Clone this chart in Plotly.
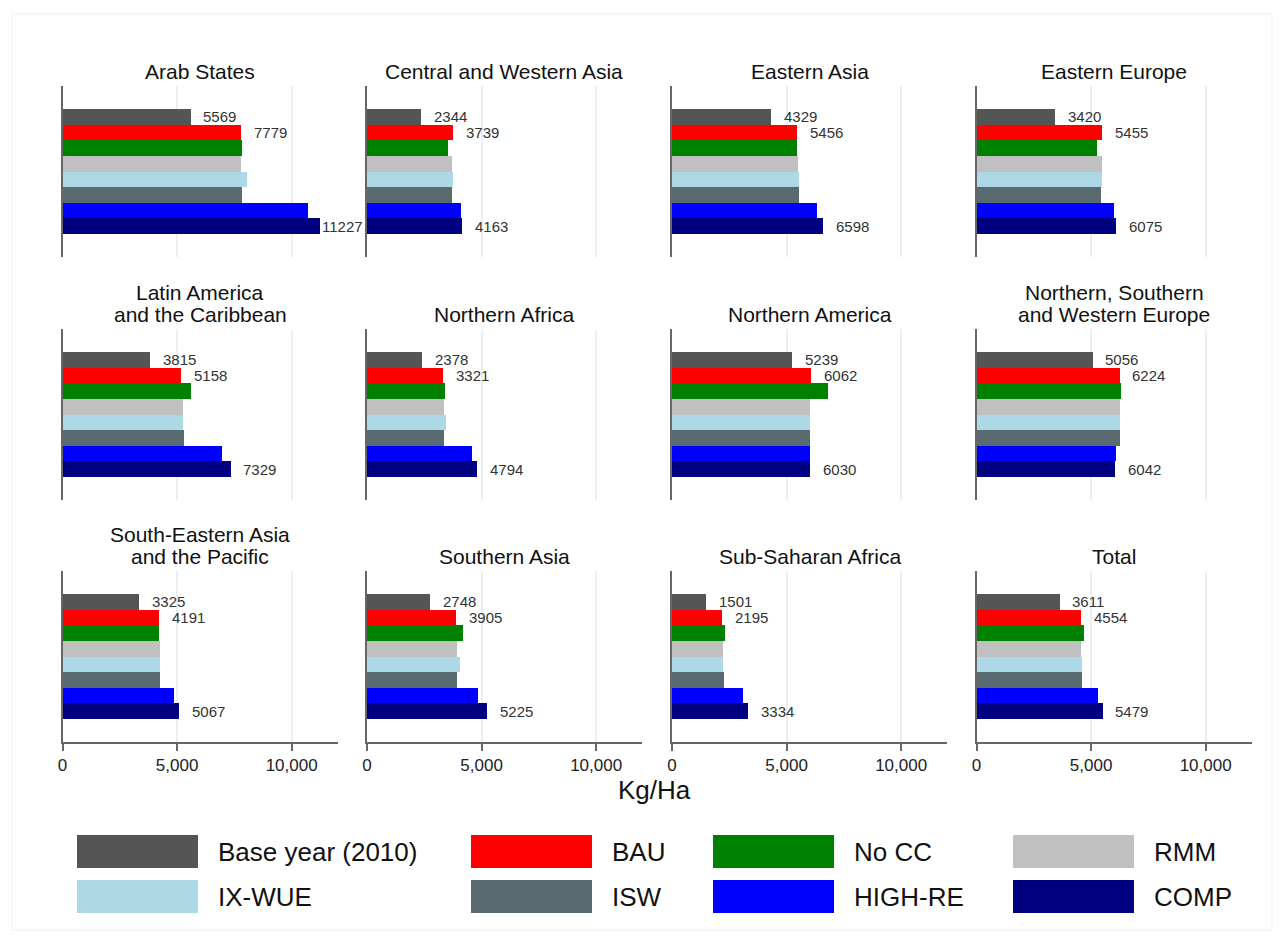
import plotly.graph_objects as go

# Regions (panel order: left to right, top to bottom)
regions = [
    "Arab States", "Central and Western Asia", "Eastern Asia", "Eastern Europe",
    "Latin America\nand the Caribbean", "Northern Africa", "Northern America",
    "Northern, Southern\nand Western Europe",
    "South-Eastern Asia\nand the Pacific", "Southern Asia", "Sub-Saharan Africa", "Total",
]

series_names = ["Base year (2010)", "BAU", "No CC", "RMM", "IX-WUE", "ISW", "HIGH-RE", "COMP"]
series_colors = ["#555555", "#ff0000", "#008000", "#c0c0c0", "#add8e6", "#596b71", "#0000ff", "#000080"]

# Yield, Kg/Ha
base_year = [5569, 2344, 4329, 3420, 3815, 2378, 5239, 5056, 3325, 2748, 1501, 3611]
bau       = [7779, 3739, 5456, 5455, 5158, 3321, 6062, 6224, 4191, 3905, 2195, 4554]
no_cc     = [7810, 3520, 5450, 5240, 5570, 3420, 6820, 6280, 4190, 4170, 2310, 4680]
rmm       = [7770, 3730, 5490, 5460, 5220, 3340, 6030, 6220, 4220, 3910, 2220, 4550]
ix_wue    = [8010, 3740, 5540, 5460, 5220, 3440, 6040, 6220, 4250, 4060, 2220, 4600]
isw       = [7790, 3710, 5540, 5410, 5280, 3340, 6030, 6230, 4250, 3920, 2290, 4600]
high_re   = [10710, 4090, 6320, 5980, 6950, 4580, 6030, 6060, 4860, 4860, 3080, 5270]
comp      = [11227, 4163, 6598, 6075, 7329, 4794, 6030, 6042, 5067, 5225, 3334, 5479]

series_values = [base_year, bau, no_cc, rmm, ix_wue, isw, high_re, comp]
labelled = [0, 1, 7]  # series whose values are printed next to the bar

x_ticks = [0, 5000, 10000]
x_max = 12000

W, H = 1284, 940
FONT = "Liberation Sans"

def px_x(p):
    return p / W

def px_y(p):
    return 1 - p / H

col_left = [62.5, 367, 672, 976.5]
col_width = 275
row_top = [86, 329, 571]
row_height = 171

fig = go.Figure()
layout = dict(
    width=W, height=H, autosize=False,
    margin=dict(l=0, r=0, t=0, b=0, pad=0, autoexpand=False),
    paper_bgcolor="white", plot_bgcolor="white",
    showlegend=False, bargap=0,
    font=dict(family=FONT, color="#222222"),
)
annotations = []
shapes = []

for i, region in enumerate(regions):
    r, c = divmod(i, 4)
    n = "" if i == 0 else str(i + 1)
    xa, ya = "x" + n, "y" + n
    x0 = col_left[c]
    y0 = row_top[r]

    vals = [s[i] for s in series_values]
    fig.add_trace(go.Bar(
        x=vals, y=list(range(len(series_names))), orientation="h",
        marker=dict(color=series_colors, line=dict(width=0)),
        xaxis=xa, yaxis=ya, hoverinfo="x", width=1,
    ))

    bottom_row = r == 2
    layout["xaxis" + n] = dict(
        domain=[px_x(x0), px_x(x0 + col_width)], anchor=ya, automargin=False,
        range=[0, x_max], tickvals=x_ticks, tickformat=",d",
        showgrid=True, gridcolor="#e9f0f3", gridwidth=1.5, zeroline=False,
        showline=bottom_row, linecolor="#666666", linewidth=2,
        ticks="outside" if bottom_row else "", ticklen=7, tickwidth=2, tickcolor="#666666",
        showticklabels=bottom_row,
        tickfont=dict(size=17, color="#222222", family=FONT),
        fixedrange=True,
    )
    layout["yaxis" + n] = dict(
        domain=[px_y(y0 + row_height), px_y(y0)], anchor=xa, automargin=False,
        range=[8.97, -1.97], showticklabels=False, showgrid=False, zeroline=False,
        showline=True, linecolor="#666666", linewidth=2, ticks="", fixedrange=True,
    )

    # panel title, one annotation per line
    lines = region.split("\n")
    for k, line in enumerate(reversed(lines)):
        annotations.append(dict(
            text=line, xref="paper", yref="paper",
            x=px_x(x0 + col_width / 2), y=px_y(y0),
            xanchor="center", yanchor="bottom", yshift=1 + 22 * k,
            showarrow=False, font=dict(size=21, color="#111111", family=FONT),
        ))

    # value labels
    for s in labelled:
        v = series_values[s][i]
        annotations.append(dict(
            text=str(v), x=v, y=s, xref=xa, yref=ya,
            xanchor="left", yanchor="middle", xshift=11 if v < 10500 else 0,
            showarrow=False, font=dict(size=15, color="#333333", family=FONT),
        ))

# axis title
annotations.append(dict(
    text="Kg/Ha", xref="paper", yref="paper", x=px_x(654), y=px_y(790),
    xanchor="center", yanchor="middle", showarrow=False,
    font=dict(size=26, color="#111111", family=FONT),
))

# legend: 4 columns x 2 rows of swatches
leg_swatch_x = [77, 471, 713, 1013]
leg_row_y = [835, 880]
sw_w, sw_h, gap = 121, 33, 18
for j, (name, color) in enumerate(zip(series_names, series_colors)):
    lr, lc = divmod(j, 4)
    sx, sy = leg_swatch_x[lc], leg_row_y[lr]
    shapes.append(dict(
        type="rect", xref="paper", yref="paper",
        x0=px_x(sx), x1=px_x(sx + sw_w), y0=px_y(sy + sw_h), y1=px_y(sy),
        fillcolor=color, line=dict(width=0),
    ))
    annotations.append(dict(
        text=name, xref="paper", yref="paper",
        x=px_x(sx + sw_w + gap), y=px_y(sy + sw_h / 2),
        xanchor="left", yanchor="middle", showarrow=False,
        font=dict(size=26, color="#111111", family=FONT),
    ))

# faint frame around the graph region
shapes.append(dict(
    type="rect", xref="paper", yref="paper",
    x0=px_x(12), x1=px_x(1272), y0=px_y(930), y1=px_y(14),
    line=dict(color="#eeeeee", width=1), fillcolor="rgba(0,0,0,0)",
))

layout["annotations"] = annotations
layout["shapes"] = shapes
fig.update_layout(**layout)
fig.write_html("out.html")
